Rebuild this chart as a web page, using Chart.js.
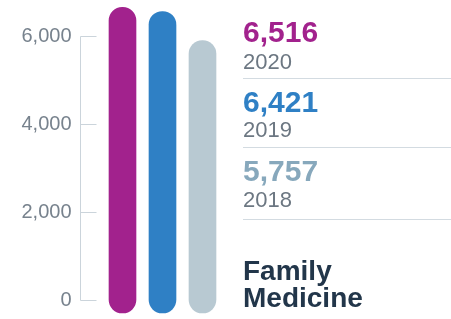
<style>
  * { margin: 0; padding: 0; box-sizing: border-box; }
  body { width: 451px; height: 319px; background: #fff; overflow: hidden; font-family: "Liberation Sans", Arial, sans-serif; }
  .wrap { position: relative; width: 451px; height: 319px; }
  #chart { position: absolute; left: 0; top: 0; }
  .t { position: absolute; left: 243px; line-height: 1; white-space: nowrap; }
  .val { font-size: 30px; font-weight: 700; }
  .yr { font-size: 22px; color: #6c7782; }
  .sep { position: absolute; left: 243px; width: 208px; height: 1px; background: #d3dbe1; }
  .title { font-size: 28px; font-weight: 700; color: #22364a; }
</style>

<div class="wrap">
  <canvas id="chart" width="451" height="319"></canvas>
  <div id="v0" class="t val" style="top:17px"></div>
  <div id="y0" class="t yr" style="top:51px"></div>
  <div class="sep" style="top:78px"></div>
  <div id="v1" class="t val" style="top:87px"></div>
  <div id="y1" class="t yr" style="top:119px"></div>
  <div class="sep" style="top:147px"></div>
  <div id="v2" class="t val" style="top:156px"></div>
  <div id="y2" class="t yr" style="top:189px"></div>
  <div class="sep" style="top:219px"></div>
  <div class="t title" style="top:257px">Family</div>
  <div class="t title" style="top:284px">Medicine</div>
</div>

<script src="https://cdn.jsdelivr.net/npm/chart.js/dist/chart.umd.min.js"></script>
<script>
  // data
  const years = ['2020', '2019', '2018'];
  const residents = [6516, 6421, 5757];
  const barColors = ['#a2228d', '#2f80c5', '#b8c9d2'];
  const textColors = ['#a2228d', '#2f80c5', '#87a8bc'];
  const yTicks = [0, 2000, 4000, 6000];

  // pixel scale of the axis: 2,000 per 88px, zero at y=300
  const perPx = 2000 / 88;
  const yMax = 300 * perPx;
  const yMin = -19 * perPx;
  const capBottom = 13 * perPx;   // round end below zero
  const capTop = 6 * perPx;

  // side labels
  years.forEach((yr, i) => {
    const v = document.getElementById('v' + i);
    v.textContent = residents[i].toLocaleString('en-US');
    v.style.color = textColors[i];
    document.getElementById('y' + i).textContent = yr;
  });

  const axisLine = {
    id: 'axisLine',
    afterDraw(chart) {
      const ctx = chart.ctx;
      const y = chart.scales.y;
      const x0 = 80.5;
      ctx.save();
      ctx.strokeStyle = '#cbd4db';
      ctx.lineWidth = 1;
      ctx.beginPath();
      ctx.moveTo(x0, Math.round(y.getPixelForValue(yTicks[yTicks.length - 1])) + 0.5);
      ctx.lineTo(x0, Math.round(y.getPixelForValue(0)) + 0.5);
      yTicks.forEach(t => {
        const py = Math.round(y.getPixelForValue(t)) + 0.5;
        ctx.moveTo(x0, py);
        ctx.lineTo(x0 + 16, py);
      });
      ctx.stroke();
      ctx.restore();
    }
  };

  new Chart(document.getElementById('chart'), {
    type: 'bar',
    data: {
      labels: years,
      datasets: [{
        data: residents.map(v => [-capBottom, v + capTop]),
        backgroundColor: barColors,
        borderRadius: 14,
        borderSkipped: false,
        barThickness: 27
      }]
    },
    options: {
      responsive: false,
      animation: false,
      layout: { padding: { left: 0, right: 228.5, top: 0, bottom: 0 } },
      plugins: { legend: { display: false }, tooltip: { enabled: false } },
      scales: {
        x: { display: false },
        y: {
          min: yMin,
          max: yMax,
          afterBuildTicks: s => { s.ticks = yTicks.map(v => ({ value: v })); },
          afterFit: s => { s.width = 102.5; s.paddingTop = 0; s.paddingBottom = 0; },
          grid: { display: false },
          border: { display: false },
          ticks: {
            padding: 23,
            color: '#77828d',
            font: { family: '"Liberation Sans", Arial, sans-serif', size: 20 },
            callback: v => v.toLocaleString('en-US')
          }
        }
      }
    },
    plugins: [axisLine]
  });
</script>
